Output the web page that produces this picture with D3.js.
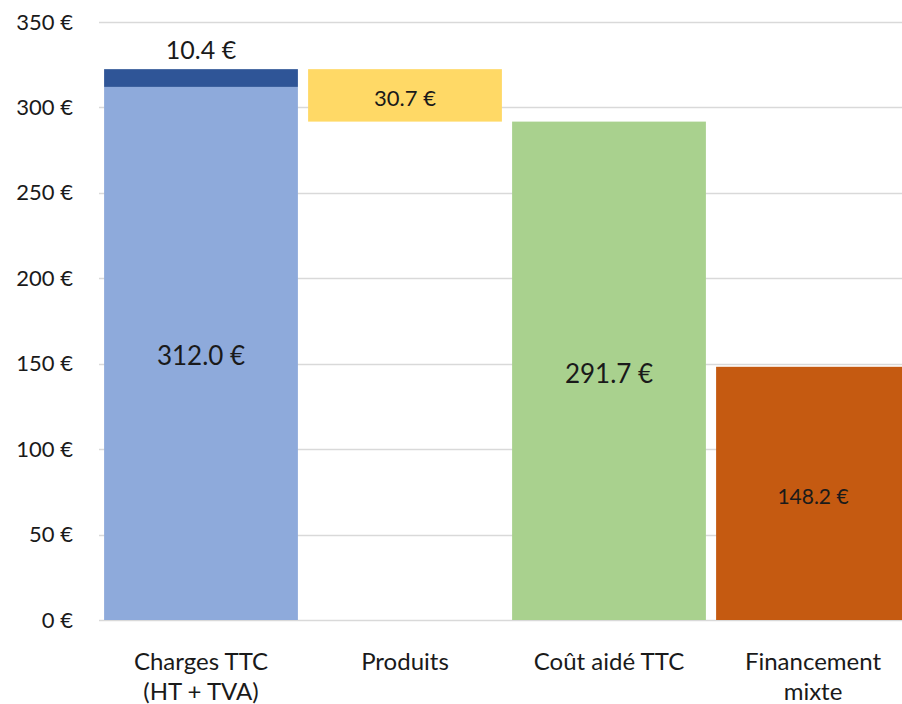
<!DOCTYPE html>
<html>
<head>
<meta charset="utf-8">
<script src="https://cdn.jsdelivr.net/npm/d3@7"></script>
<style>
  body { margin: 0; background: #fff; }
  svg text { font-family: Lato, "Open Sans", sans-serif; fill: #1a1a1a; }
</style>
</head>
<body>
<div id="chart"></div>
<script>
// categories (line-split labels)
var categories = ['Charges TTC', 'Produits', 'Coût aidé TTC', 'Financement mixte'];
var categoryLines = [['Charges TTC', '(HT + TVA)'], ['Produits'], ['Coût aidé TTC'], ['Financement', 'mixte']];

// waterfall pieces : invisible base, main value, top-up value
var baseValues = [0, 291.7, 0, 0];
var mainValues = [312.0, 30.7, 291.7, 148.2];
var topValues  = [10.4, 0, 0, 0];

var mainColors = ['#8eaadb', '#ffd966', '#a9d18e', '#c55a11'];
var topColor = '#2f5597';

var yTicks = [0, 50, 100, 150, 200, 250, 300, 350];

var width = 902, height = 704;
var margin = { top: 22, right: -13, bottom: 84, left: 99 };

var rows = categories.map(function(c, i) {
  return { cat: c, base: baseValues[i], main: mainValues[i], top: topValues[i] };
});

var stack = d3.stack().keys(['base', 'main', 'top']);
var series = stack(rows);

var xScale = d3.scaleBand()
  .domain(categories)
  .range([margin.left, width - margin.right])
  .paddingInner(0.05)
  .paddingOuter(0.025);

var yScale = d3.scaleLinear()
  .domain([0, 350])
  .range([height - margin.bottom, margin.top]);

var svg = d3.select('#chart').append('svg')
  .attr('width', width)
  .attr('height', height);

// gridlines
svg.append('g')
  .selectAll('line')
  .data(yTicks)
  .enter()
  .append('line')
  .attr('x1', margin.left)
  .attr('x2', width)
  .attr('y1', function(d) { return Math.round(yScale(d)) + 0.5; })
  .attr('y2', function(d) { return Math.round(yScale(d)) + 0.5; })
  .attr('stroke', '#d9d9d9')
  .attr('stroke-width', 1.5);

// y axis labels
var yAxis = d3.axisLeft(yScale)
  .tickValues(yTicks)
  .tickSize(0)
  .tickPadding(0)
  .tickFormat(function(d) { return d + ' €'; });

svg.append('g')
  .attr('transform', 'translate(73,0)')
  .call(yAxis)
  .call(function(g) { g.select('.domain').remove(); })
  .selectAll('text')
  .style('font-size', '22px')
  .style('font-family', 'Lato')
  .attr('fill', '#1a1a1a');

// bars
var colorOf = {
  base: function() { return 'none'; },
  main: function(i) { return mainColors[i]; },
  top: function() { return topColor; }
};

svg.append('g')
  .selectAll('g')
  .data(series)
  .enter()
  .append('g')
  .each(function(s) {
    d3.select(this).selectAll('rect')
      .data(s.filter(function(d) { return d[1] - d[0] > 0; }))
      .enter()
      .append('rect')
      .attr('x', function(d) { return xScale(d.data.cat); })
      .attr('width', xScale.bandwidth())
      .attr('y', function(d) { return yScale(d[1]); })
      .attr('height', function(d) { return yScale(d[0]) - yScale(d[1]); })
      .attr('fill', function(d) { return colorOf[s.key](categories.indexOf(d.data.cat)); });
  });

// value labels
var fmt = function(v) { return v.toFixed(1) + ' €'; };
var labelSize = [26, 22, 26, 21];

svg.append('g')
  .selectAll('text')
  .data(series[1])
  .enter()
  .append('text')
  .attr('x', function(d) { return xScale(d.data.cat) + xScale.bandwidth() / 2; })
  .attr('y', function(d) { return (yScale(d[0]) + yScale(d[1])) / 2 + 2; })
  .attr('text-anchor', 'middle')
  .attr('dominant-baseline', 'central')
  .style('font-size', function(d, i) { return labelSize[i] + 'px'; })
  .text(function(d) { return fmt(d.data.main); });

svg.append('g')
  .selectAll('text')
  .data(series[2].filter(function(d) { return d[1] - d[0] > 0; }))
  .enter()
  .append('text')
  .attr('x', function(d) { return xScale(d.data.cat) + xScale.bandwidth() / 2; })
  .attr('y', function(d) { return yScale(d[1]) - 20; })
  .attr('text-anchor', 'middle')
  .attr('dominant-baseline', 'central')
  .style('font-size', '25px')
  .text(function(d) { return fmt(d.data.top); });

// category labels
svg.append('g')
  .selectAll('text')
  .data(categories)
  .enter()
  .append('text')
  .attr('x', function(d) { return xScale(d) + xScale.bandwidth() / 2; })
  .attr('y', 660)
  .attr('text-anchor', 'middle')
  .style('font-size', '24px')
  .each(function(d, i) {
    var t = d3.select(this);
    categoryLines[i].forEach(function(line, j) {
      t.append('tspan')
        .attr('x', xScale(d) + xScale.bandwidth() / 2)
        .attr('y', 660 + j * 30)
        .attr('dominant-baseline', 'central')
        .text(line);
    });
  });
</script>
</body>
</html>
